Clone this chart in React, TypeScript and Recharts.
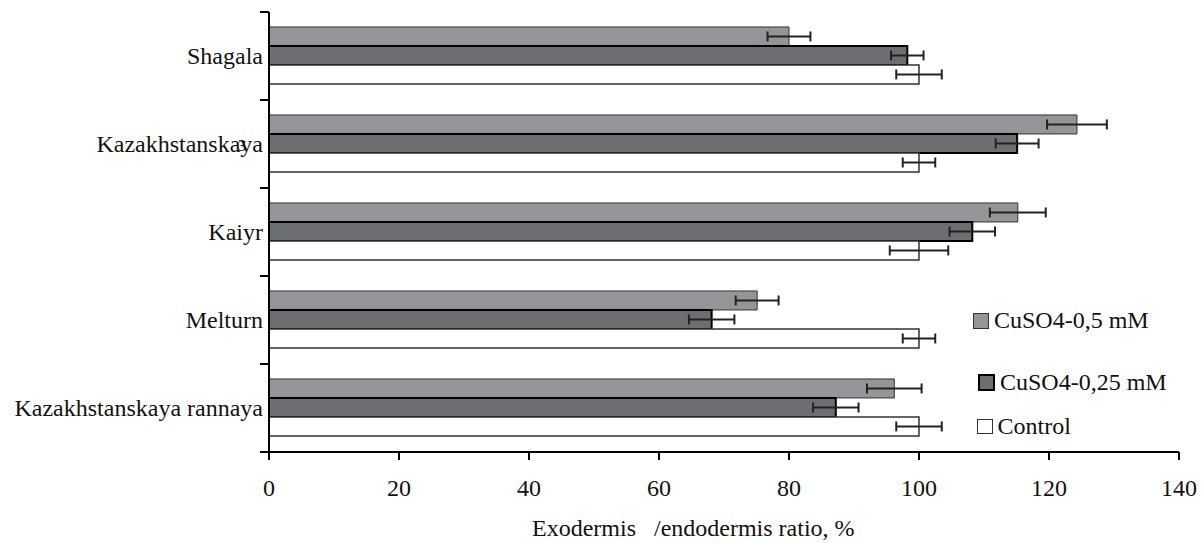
import { BarChart, Bar, XAxis, YAxis, ErrorBar } from 'recharts'

// cultivars, top to bottom
const categories = ['Shagala', 'Kazakhstanskaya 3', 'Kaiyr', 'Melturn', 'Kazakhstanskaya rannaya']

const cuso405 = [80, 124.3, 115.2, 75.1, 96.2]
const cuso405Err = [3.3, 4.6, 4.3, 3.3, 4.2]
const cuso4025 = [98.2, 115.1, 108.2, 68.1, 87.2]
const cuso4025Err = [2.5, 3.3, 3.5, 3.5, 3.5]
const control = [100, 100, 100, 100, 100]
const controlErr = [3.5, 2.5, 4.5, 2.5, 3.5]

const xTicks = [0, 20, 40, 60, 80, 100, 120, 140]

const seriesNames = ['CuSO4-0,5 mM', 'CuSO4-0,25 mM', 'Control']

const data = categories.map((name, i) => ({
  name,
  c05: cuso405[i],
  c05e: cuso405Err[i],
  c025: cuso4025[i],
  c025e: cuso4025Err[i],
  ctrl: control[i],
  ctrle: controlErr[i],
}))

const FONT = '"Liberation Serif", "Times New Roman", serif'
const W = 1204
const H = 543
const MARGIN = { top: 12, right: 25, left: 0, bottom: 0 }
const Y_AXIS_W = 269
const X_AXIS_H = 91
const BAND = (H - MARGIN.top - X_AXIS_H) / categories.length

const CategoryTick = (props: any) => {
  const { x, y, payload, index } = props
  const label: string = payload.value
  const axisX = x + 6
  // the "3" of Kazakhstanskaya 3 sits squeezed over the last letters
  const overlap = label.endsWith(' 3')
  const base = overlap ? label.slice(0, -2) : label
  return (
    <g>
      <line x1={axisX - 9} x2={axisX} y1={y - BAND / 2} y2={y - BAND / 2} stroke="#000" strokeWidth={2} />
      {index === categories.length - 1 && (
        <line x1={axisX - 9} x2={axisX} y1={y + BAND / 2} y2={y + BAND / 2} stroke="#000" strokeWidth={2} />
      )}
      <text x={x} y={y} dy="0.35em" textAnchor="end" fontSize={24} fontFamily={FONT} fill="#111">
        {base}
      </text>
      {overlap && (
        <text x={x - 21} y={y + 7} textAnchor="middle" fontSize={16} fontFamily={FONT} fill="#111">
          3
        </text>
      )}
    </g>
  )
}

const AxisTitle = () => (
  <text x={532} y={536} fontSize={24} fontFamily={FONT} fill="#111" style={{ whiteSpace: 'pre' }}>
    {'Exodermis   /endodermis ratio, %'}
  </text>
)

const legendItems = [
  { name: seriesNames[0], fill: '#939598', stroke: '#333', sw: 1, left: 973, top: 313 },
  { name: seriesNames[1], fill: '#6d6e71', stroke: '#000', sw: 2, left: 978, top: 375 },
  { name: seriesNames[2], fill: '#fff', stroke: '#333', sw: 1.5, left: 977, top: 419 },
]

export default function App() {
  return (
    <div style={{ position: 'absolute', left: 0, top: 0, width: W, height: H, background: '#fff' }}>
      <BarChart
        width={W}
        height={H}
        data={data}
        layout="vertical"
        margin={MARGIN}
        barCategoryGap="17%"
        barGap={0}
      >
        <XAxis
          type="number"
          domain={[0, 140]}
          ticks={xTicks}
          interval={0}
          height={X_AXIS_H}
          axisLine={{ stroke: '#000', strokeWidth: 2 }}
          tickLine={{ stroke: '#000', strokeWidth: 2 }}
          tickSize={8}
          tickMargin={19}
          tick={{ fontSize: 24, fontFamily: FONT, fill: '#111' }}
          label={<AxisTitle />}
        />
        <YAxis
          type="category"
          dataKey="name"
          width={Y_AXIS_W}
          axisLine={{ stroke: '#000', strokeWidth: 2 }}
          tickLine={false}
          tickSize={0}
          tickMargin={6}
          interval={0}
          tick={<CategoryTick />}
        />
        <Bar dataKey="c05" name={seriesNames[0]} fill="#939598" stroke="#333" strokeWidth={1} isAnimationActive={false}>
          <ErrorBar dataKey="c05e" direction="x" width={5} stroke="#222" strokeWidth={2} />
        </Bar>
        <Bar dataKey="c025" name={seriesNames[1]} fill="#6d6e71" stroke="#000" strokeWidth={2} isAnimationActive={false}>
          <ErrorBar dataKey="c025e" direction="x" width={5} stroke="#222" strokeWidth={2} />
        </Bar>
        <Bar dataKey="ctrl" name={seriesNames[2]} fill="#fff" stroke="#333" strokeWidth={1.5} isAnimationActive={false}>
          <ErrorBar dataKey="ctrle" direction="x" width={5} stroke="#222" strokeWidth={2} />
        </Bar>
      </BarChart>
      {legendItems.map((it) => (
        <div
          key={it.name}
          style={{
            position: 'absolute',
            left: it.left,
            top: it.top,
            display: 'flex',
            alignItems: 'center',
            height: 15,
            fontFamily: FONT,
            fontSize: 24,
            color: '#111',
            whiteSpace: 'nowrap',
          }}
        >
          <div
            style={{
              width: 15 - it.sw,
              height: 15 - it.sw,
              background: it.fill,
              border: `${it.sw}px solid ${it.stroke}`,
              marginRight: 5,
            }}
          />
          <span>{it.name}</span>
        </div>
      ))}
    </div>
  )
}
